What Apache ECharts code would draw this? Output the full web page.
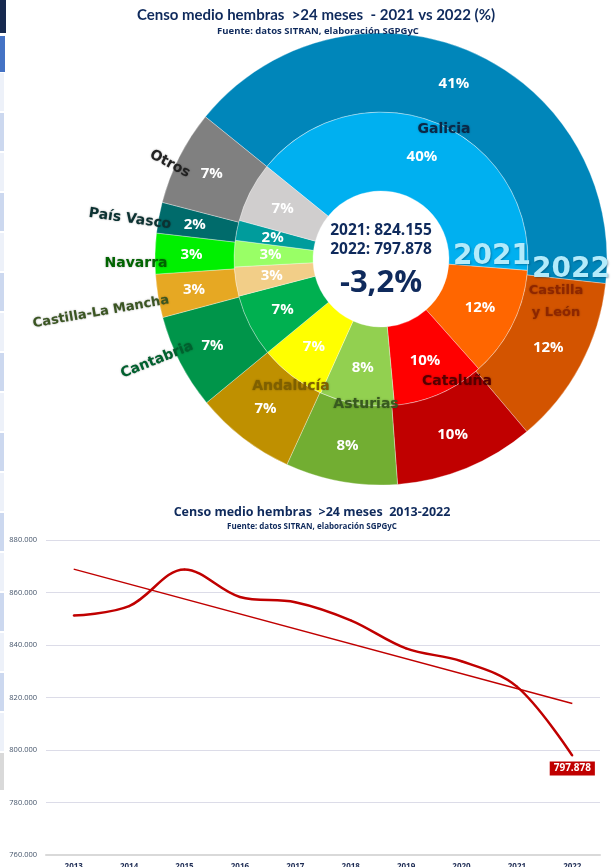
<!DOCTYPE html>
<html>
<head>
<meta charset="utf-8">
<script src="https://cdn.jsdelivr.net/npm/echarts@6/dist/echarts.min.js"></script>
<style>
  html, body { margin: 0; padding: 0; background: #fff; }
  #chart { width: 614px; height: 867px; }
</style>
</head>
<body>
<div id="chart"></div>
<script>
// donut: regional share of females > 24 months
const regions = ["Galicia", "Castilla y León", "Cataluña", "Asturias", "Andalucía",
  "Cantabria", "Castilla-La Mancha", "Navarra", "País Vasco", "Otros"];
const share2021 = [40.4, 12.2, 10.1, 8.2, 7.3, 6.9, 3.2, 2.9, 2.2, 6.6];
const share2022 = [40.9, 12.1, 10.0, 8.0, 7.2, 6.8, 3.1, 2.9, 2.2, 6.8];
const total2021 = 824155;
const total2022 = 797878;

// line: yearly census
const years = ["2013", "2014", "2015", "2016", "2017", "2018", "2019", "2020", "2021", "2022"];
const census = [851200, 854800, 868800, 858300, 856300, 849400, 838700, 833800, 824155, 797878];
const trendEnds = [868900, 817700];
const yMin = 760000, yMax = 880000, yStep = 20000;

const colors2021 = ["#00B0F0", "#FF6600", "#FF0000", "#92D050", "#FFFF00",
  "#00B050", "#F2CE88", "#99FF66", "#009C9C", "#D0CECE"];
const colors2022 = ["#0086BA", "#D35400", "#C00000", "#72AE32", "#BF9000",
  "#00954A", "#E6A823", "#00F000", "#006B6B", "#808080"];

// name labels: [x, y, rotation deg, colour]
const nameLayout = [
  [444, 129, 0, "#0B2847"],
  [556, 302, 0, "#8E2600"],
  [457, 381, 0, "#560000"],
  [366, 404, 0, "#385A1F"],
  [291, 386, 0, "#7F6000"],
  [157, 360, 22, "#00602E"],
  [101, 312, 10, "#3A5522"],
  [136, 263, 0, "#006400"],
  [130, 219, -8, "#0C3232"],
  [170, 164, -28, "#222222"]
];

const navy = "#0F2A5C";
const fmt = v => {
  const s = Math.round(v).toString();
  return s.replace(/\B(?=(\d{3})+(?!\d))/g, ".");
};
const change = ((total2022 / total2021 - 1) * 100).toFixed(1).replace(".", ",") + "%";

function txt(x, y, text, size, color, extra) {
  return {
    type: "text", x: x, y: y, z: 100,
    style: Object.assign({
      text: text, fill: color, fontSize: size, fontWeight: "bold",
      fontFamily: "Open Sans", align: "center", verticalAlign: "middle",
      textAlign: "center", textVerticalAlign: "middle"
    }, extra || {})
  };
}

const graphics = [];

// sidebar strip at the left edge of the screenshot
graphics.push({ type: "rect", shape: { x: 0, y: 0, width: 6, height: 33 }, style: { fill: "#16294F" } });
graphics.push({ type: "rect", shape: { x: 0, y: 36, width: 5, height: 36 }, style: { fill: "#4472C4" } });
for (let i = 0; i < 17; i++) {
  graphics.push({
    type: "rect", shape: { x: 0, y: 73 + i * 40, width: 4, height: 38 },
    style: { fill: i % 2 ? "#CCD8EF" : "#EDF1F9" }
  });
}
graphics.push({ type: "rect", shape: { x: 0, y: 753, width: 4, height: 37 }, style: { fill: "#D9D9D9" } });

// titles
graphics.push(txt(316, 15, "Censo medio hembras  >24 meses  - 2021 vs 2022 (%)", 15, navy, { fontFamily: "Lato" }));
graphics.push(txt(318, 31, "Fuente: datos SITRAN, elaboración SGPGyC", 9.5, navy));
graphics.push(txt(312, 512, "Censo medio hembras  >24 meses  2013-2022", 12.5, navy));
graphics.push(txt(312, 527, "Fuente: datos SITRAN, elaboración SGPGyC", 8, navy));

// centre of the donut
graphics.push(txt(381, 231, "2021: " + fmt(total2021), 15.5, navy));
graphics.push(txt(381, 250, "2022: " + fmt(total2022), 15.5, navy));
graphics.push(txt(381, 283, change, 31, navy));

// ring captions
const ringStyle = { fontFamily: "DejaVu Sans", textShadowColor: "rgba(0,60,90,0.45)", textShadowBlur: 2, textShadowOffsetX: 1, textShadowOffsetY: 1 };
graphics.push(txt(492, 257, "2021", 28, "#B3EBFB", ringStyle));
graphics.push(txt(571, 270, "2022", 28, "#B3EBFB", ringStyle));

// region names
regions.forEach((name, i) => {
  const [x, y, rot, color] = nameLayout[i];
  const label = name === "Castilla y León" ? "Castilla\ny León" : name;
  const el = txt(x, y, label, name.length > 12 ? 13 : 14, color, {
    fontFamily: "DejaVu Sans", lineHeight: 22,
    textShadowColor: "rgba(0,0,0,0.35)", textShadowBlur: 2
  });
  el.rotation = rot * Math.PI / 180;
  graphics.push(el);
});

const pctLabel = {
  position: "inside",
  formatter: p => Math.round(p.value) + "%",
  color: "#ffffff", fontWeight: "bold", fontSize: 15, fontFamily: "Open Sans"
};

const chart = echarts.init(document.getElementById("chart"), null, { renderer: "canvas" });
chart.setOption({
  backgroundColor: "#ffffff",
  animation: false,
  graphic: { elements: graphics },
  grid: { left: 46, right: 14, top: 540, height: 315, containLabel: false, outerBoundsMode: "none" },
  xAxis: {
    type: "category",
    data: years,
    boundaryGap: true,
    axisTick: { show: false },
    axisLine: { lineStyle: { color: "#D9D9D9", width: 2 } },
    axisLabel: { margin: 8, color: "#1F2D55", fontWeight: "bold", fontSize: 8, fontFamily: "Open Sans" }
  },
  yAxis: {
    type: "value",
    min: yMin,
    max: yMax,
    interval: yStep,
    axisLine: { show: false },
    axisTick: { show: false },
    splitLine: { lineStyle: { color: "#DCDCE8", width: 1 } },
    axisLabel: { margin: 9, color: "#44546A", fontSize: 7.5, fontFamily: "Open Sans", formatter: v => fmt(v) }
  },
  series: [
    {
      type: "pie",
      name: "2021",
      center: [381, 259],
      radius: [68, 147],
      startAngle: 141,
      silent: true,
      label: pctLabel,
      labelLine: { show: false },
      itemStyle: { borderColor: "rgba(255,255,255,0.55)", borderWidth: 0.6 },
      data: regions.map((n, i) => ({ name: n, value: share2021[i], itemStyle: { color: colors2021[i] } }))
    },
    {
      type: "pie",
      name: "2022",
      center: [381, 259],
      radius: [147, 226],
      startAngle: 141,
      silent: true,
      label: pctLabel,
      labelLine: { show: false },
      itemStyle: { borderColor: "rgba(255,255,255,0.55)", borderWidth: 0.6 },
      data: regions.map((n, i) => ({ name: n, value: share2022[i], itemStyle: { color: colors2022[i] } }))
    },
    {
      type: "line",
      name: "Tendencia",
      symbol: "none",
      lineStyle: { color: "#C00000", width: 1.5 },
      data: [[years[0], trendEnds[0]], [years[years.length - 1], trendEnds[1]]],
      z: 3
    },
    {
      type: "line",
      name: "Censo",
      smooth: 0.35,
      symbol: "circle",
      symbolSize: 2,
      showSymbol: true,
      itemStyle: { color: "#C00000" },
      lineStyle: { color: "#C00000", width: 2.5 },
      data: census.map((v, i) => i === census.length - 1
        ? {
            value: v,
            label: {
              show: true, position: "bottom", distance: 5,
              formatter: p => fmt(p.value),
              color: "#fff", backgroundColor: "#C00000", fontWeight: "bold",
              fontSize: 10, fontFamily: "Open Sans", padding: [2, 4, 2, 4]
            }
          }
        : v),
      z: 4
    }
  ]
});
</script>
</body>
</html>
